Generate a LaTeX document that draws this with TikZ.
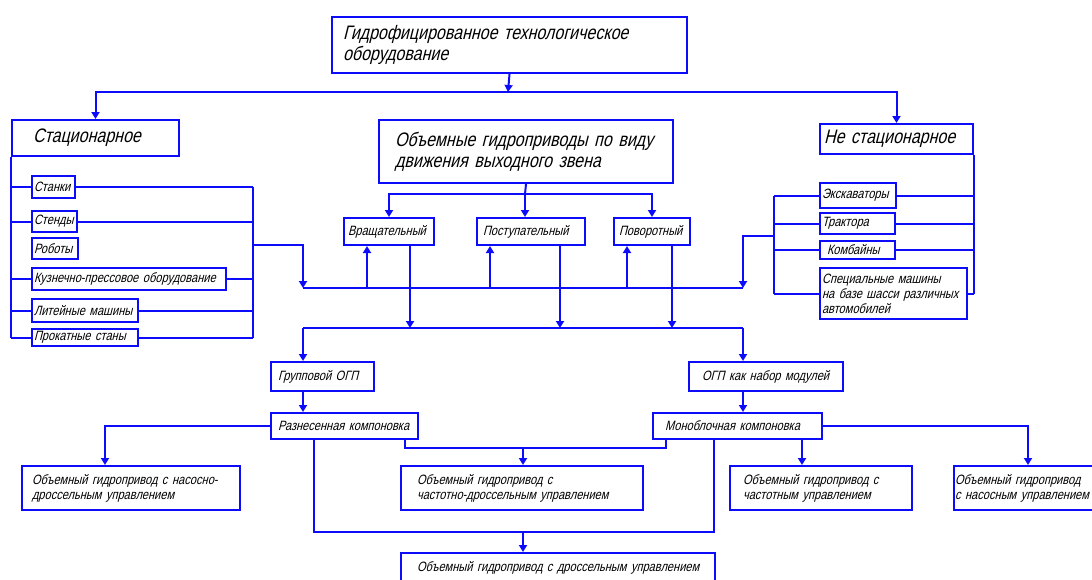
\documentclass[tikz,border=0pt]{standalone}
\usepackage{fontspec}
\newfontfamily\gostfont{Liberation Sans}[FakeStretch=0.82,FakeSlant=0.25]
\usetikzlibrary{arrows.meta}
\definecolor{schemeblue}{RGB}{12,12,250}
\tikzset{block/.style={rectangle,draw=schemeblue,line width=2pt,anchor=north west,inner sep=0pt,align=left,text=black}}
\tikzset{big/.style={font=\gostfont\fontsize{19.5}{21}\selectfont}}
\tikzset{small/.style={font=\gostfont\fontsize{13.5}{15}\selectfont}}
\tikzset{lpad/.style={execute at begin node={\leftskip=#1pt\rightskip=-20pt plus 1fil\relax}}}
\tikzset{link/.style={draw=schemeblue,line width=2pt}}
\tikzset{feed/.style={link,-{Triangle[width=8pt,length=7pt]}}}

\begin{document}
\begin{tikzpicture}[x=1pt,y=-1pt]
  \useasboundingbox (0,0) rectangle (1092,579);
  \clip (0,0) rectangle (1092,579);
  \node[block,big,lpad=11,text width=355pt,minimum height=56pt] (equip) at (331,16) {Гидрофицированное технологическое\\оборудование};
  \node[block,big,lpad=21,text width=167pt,minimum height=36pt] (stat) at (11,119) {Стационарное};
  \node[block,big,lpad=4,text width=153pt,minimum height=30pt] (mobile) at (819,123) {Не стационарное};
  \node[block,big,lpad=16,text width=294pt,minimum height=63pt] (drive) at (378,119) {Объемные гидроприводы по виду\\движения выходного звена};
  \node[block,small,lpad=2,text width=43pt,minimum height=22pt] (stanki) at (31,175) {Станки};
  \node[block,small,lpad=2,text width=45pt,minimum height=21pt] (stendy) at (31,210) {Стенды};
  \node[block,small,lpad=2,text width=46pt,minimum height=21pt] (roboty) at (31,237) {Роботы};
  \node[block,small,lpad=2,text width=194pt,minimum height=22pt] (kuzn) at (31,267) {Кузнечно-прессовое оборудование};
  \node[block,small,lpad=2,text width=106pt,minimum height=23pt] (liteyn) at (31,298) {Литейные машины};
  \node[block,small,lpad=2,text width=106pt,minimum height=17pt] (prokat) at (31,328) {Прокатные станы};
  \node[block,small,lpad=2,text width=76pt,minimum height=25pt] (exc) at (819,182) {Экскаваторы};
  \node[block,small,lpad=2,text width=75pt,minimum height=21pt] (trakt) at (819,212) {Трактора};
  \node[block,small,lpad=7,text width=75pt,minimum height=18pt] (komb) at (819,240) {Комбайны};
  \node[block,small,lpad=2,text width=147pt,minimum height=51pt] (spec) at (819,267) {Специальные машины\\на базе шасси различных\\автомобилей};
  \node[block,small,lpad=4,text width=90pt,minimum height=27pt] (rot) at (343,217) {Вращательный};
  \node[block,small,lpad=6,text width=108pt,minimum height=27pt] (trans) at (476,217) {Поступательный};
  \node[block,small,lpad=5,text width=76pt,minimum height=27pt] (swing) at (613,217) {Поворотный};
  \node[block,small,lpad=7,text width=103pt,minimum height=29pt] (group) at (270,361) {Групповой ОГП};
  \node[block,small,lpad=13,text width=154pt,minimum height=29pt] (modset) at (688,361) {ОГП как набор модулей};
  \node[block,small,lpad=7,text width=147pt,minimum height=26pt] (spread) at (270,412) {Разнесенная компоновка};
  \node[block,small,lpad=12,text width=169pt,minimum height=26pt] (mono) at (652,412) {Моноблочная компоновка};
  \node[block,small,lpad=10,text width=218pt,minimum height=44pt] (pumpthr) at (21,465) {Объемный гидропривод с насосно-\\дроссельным управлением};
  \node[block,small,lpad=16,text width=242pt,minimum height=44pt] (freqthr) at (400,465) {Объемный гидропривод с\\частотно-дроссельным управлением};
  \node[block,small,lpad=13,text width=182pt,minimum height=44pt] (freq) at (729,465) {Объемный гидропривод с\\частотным управлением};
  \node[block,small,lpad=1,text width=160pt,minimum height=44pt] (pump) at (953,465) {Объемный гидропривод\\с насосным управлением};
  \node[block,small,lpad=16,text width=314pt,minimum height=30pt] (thr) at (400,552) {Объемный гидропривод с дроссельным управлением};
  % junctions
  \coordinate (split) at (508,92);
  \coordinate (fork) at (525,194);
  \coordinate (sr) at (253,245);
  \coordinate (ml) at (774,236);
  \coordinate (bl) at (303,288);
  \coordinate (br) at (743,288);
  \coordinate (cl) at (303,328);
  \coordinate (cr) at (743,328);
  \coordinate (k1) at (523,448);
  \coordinate (k2) at (523,532);
  \draw[feed] (equip.south) -- (split);
  \draw[feed] (split) -| (stat.north);
  \draw[feed] (split) -| (mobile.north);
  \draw[link] (drive.south) -- (fork);
  \draw[feed] (fork) -| (rot.north);
  \draw[feed] (fork) -- (fork |- trans.north);
  \draw[feed] (fork) -| (swing.north);
  % stationary
  \draw[link] (stat.south west) -- (stat.west |- prokat.west)
        (stat.west |- stanki.west) -- (stanki.west)
        (stat.west |- stendy.west) -- (stendy.west)
        (stat.west |- kuzn.west) -- (kuzn.west)
        (stat.west |- liteyn.west) -- (liteyn.west)
        (stat.west |- prokat.west) -- (prokat.west);
  \draw[link] (stanki.east) -- (stanki.east -| sr)
        (stendy.east) -- (stendy.east -| sr)
        (kuzn.east) -- (kuzn.east -| sr)
        (liteyn.east) -- (liteyn.east -| sr)
        (prokat.east) -- (prokat.east -| sr)
        (stanki.east -| sr) -- (prokat.east -| sr);
  \draw[feed] (sr) -| (bl);
  % mobile
  \draw[link] (mobile.south east) -- (mobile.east |- spec.west)
        (exc.east) -- (exc.east -| mobile.east)
        (trakt.east) -- (trakt.east -| mobile.east)
        (komb.east) -- (komb.east -| mobile.east)
        (spec.east) -- (spec.east -| mobile.east);
  \draw[link] (exc.west -| ml) -- (spec.west -| ml)
        (exc.west -| ml) -- (exc.west)
        (trakt.west -| ml) -- (trakt.west)
        (komb.west -| ml) -- (komb.west)
        (spec.west -| ml) -- (spec.west);
  \draw[feed] (ml) -| (br);
  % buses
  \draw[link] (bl) -- (br);
  \draw[feed] ([xshift=-22pt]rot.south |- bl) -- ([xshift=-22pt]rot.south);
  \draw[feed] ([xshift=-41pt]trans.south |- bl) -- ([xshift=-41pt]trans.south);
  \draw[feed] ([xshift=-25pt]swing.south |- bl) -- ([xshift=-25pt]swing.south);
  \draw[feed] ([xshift=21pt]rot.south) -- ([xshift=21pt]rot.south |- cl);
  \draw[feed] ([xshift=29pt]trans.south) -- ([xshift=29pt]trans.south |- cl);
  \draw[feed] ([xshift=20pt]swing.south) -- ([xshift=20pt]swing.south |- cl);
  \draw[link] (cl) -- (cr);
  \draw[feed] (cl) -- (cl |- group.north);
  \draw[feed] (cr) -- (cr |- modset.north);
  \draw[feed] (cl |- group.south) -- (cl |- spread.north);
  \draw[feed] (cr |- modset.south) -- (cr |- mono.north);
  % layouts
  \draw[feed] (spread.west) -| ([xshift=-26pt]pumpthr.north);
  \draw[link] ([xshift=-14pt]spread.south east) |- (k1) -| ([xshift=14pt]mono.south west);
  \draw[feed] (k1) -- (k1 |- freqthr.north);
  \draw[link] ([xshift=44pt]spread.south west) |- (k2) -| ([xshift=62pt]mono.south west);
  \draw[feed] (k2) -- (k2 |- thr.north);
  \draw[feed] ([xshift=-21pt]mono.south east) -- ([xshift=-21pt]mono.south east |- freq.north);
  \draw[feed] (mono.east) -| ([xshift=75pt]pump.north west);
\end{tikzpicture}
\end{document}
